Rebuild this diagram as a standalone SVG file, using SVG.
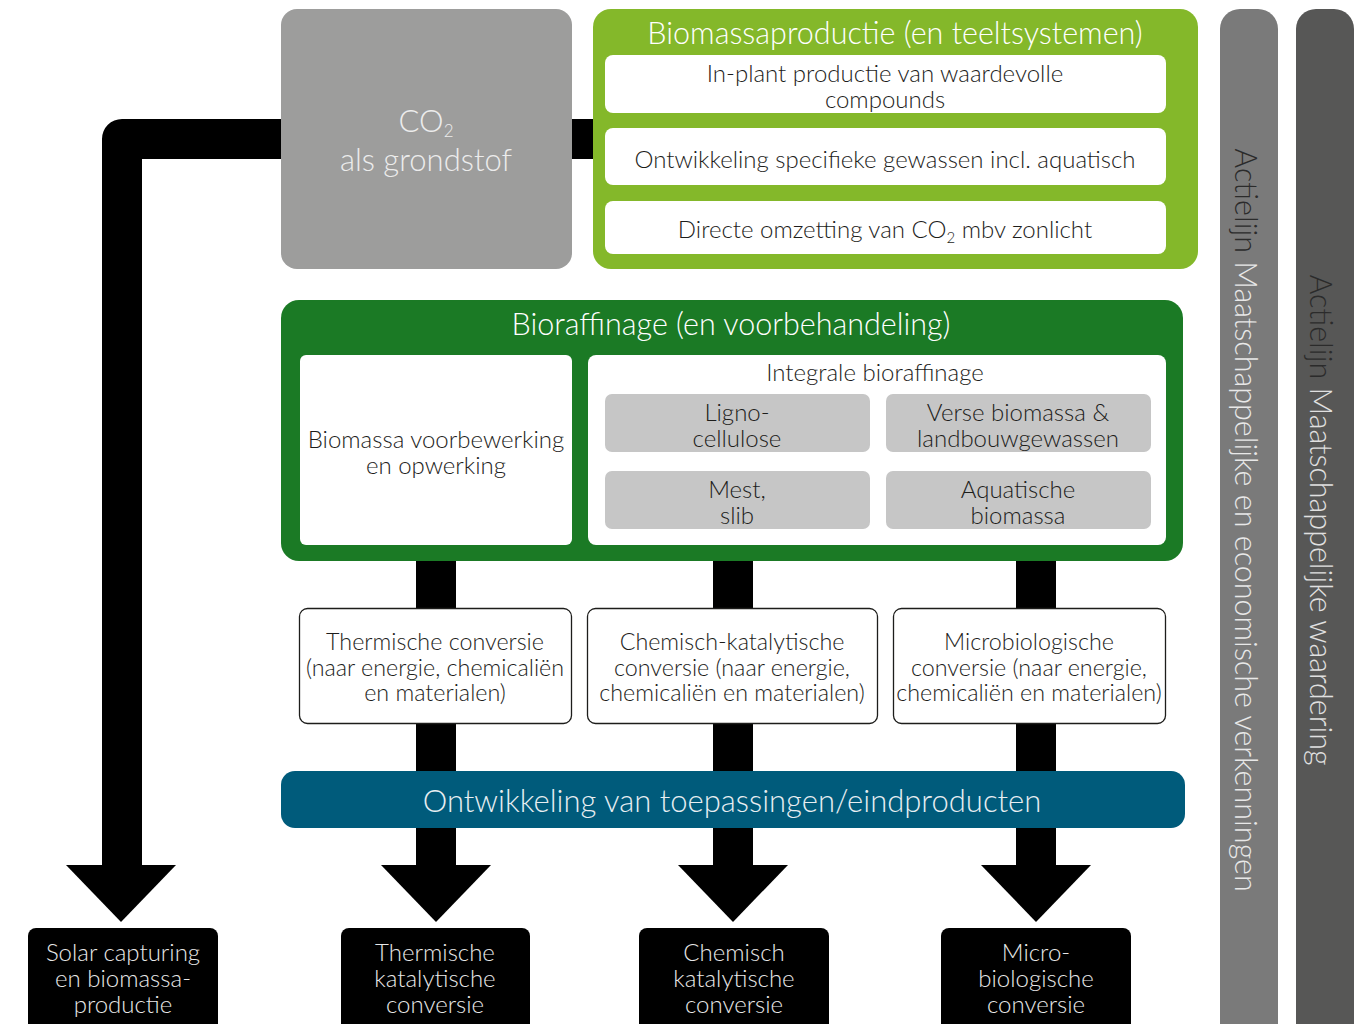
<svg xmlns="http://www.w3.org/2000/svg" width="1366" height="1024" viewBox="0 0 1366 1024">
<style>
text{font-family:Lato,"Open Sans","Liberation Sans",sans-serif;font-weight:300;text-anchor:middle;dominant-baseline:central}
.dk{fill:#1d1d1b;font-size:24px}
.cv{font-size:23.3px}
.ttl{fill:#ffffff;font-size:30.5px}
.wbox{fill:#ffffff}
.gbox{fill:#c6c6c6}
.cbox{fill:#ffffff;stroke:#1d1d1b;stroke-width:1.3}
.bbox{fill:#000000}
.btx{fill:#e8e8e8;font-size:24px}
.vt{font-size:30.5px}
</style>
<rect width="1366" height="1024" fill="#ffffff"/>

<g id="connectors" fill="#000" stroke="none">
  <path d="M 600 139 L 122 139 L 122 868" fill="none" stroke="#000" stroke-width="40" stroke-linejoin="round"/>
  <polygon points="66,865 176,865 121,922"/>
  <rect x="416" y="555" width="40" height="312"/>
  <polygon points="381,865 491,865 436,922"/>
  <rect x="713" y="555" width="40" height="312"/>
  <polygon points="678,865 788,865 733,922"/>
  <rect x="1016" y="555" width="40" height="312"/>
  <polygon points="981,865 1091,865 1036,922"/>
</g>

<g id="bar-verkenningen">
  <rect x="1220" y="9" width="58" height="1040" rx="20" fill="#7a7a7a"/>
  <text class="vt" transform="translate(1247,520) rotate(90)"><tspan fill="#2b2b2b">Actielijn</tspan><tspan fill="#e8e8e8"> Maatschappelijke en economische verkenningen</tspan></text>
</g>
<g id="bar-waardering">
  <rect x="1296" y="9" width="58" height="1040" rx="20" fill="#575756"/>
  <text class="vt" transform="translate(1322,520) rotate(90)"><tspan fill="#2b2b2b">Actielijn</tspan><tspan fill="#e0e0e0"> Maatschappelijke waardering</tspan></text>
</g>

<g id="co2">
  <rect x="281" y="9" width="291" height="260" rx="16" fill="#9d9d9c"/>
  <text x="426" y="120" fill="#ececec" font-size="31">CO<tspan font-size="17" dy="10">2</tspan></text>
  <text x="426" y="159" fill="#ececec" font-size="31">als grondstof</text>
</g>

<g id="biomassaproductie">
  <rect x="593" y="9" width="605" height="260" rx="18" fill="#84b82a"/>
  <text class="ttl" x="895" y="32">Biomassaproductie (en teeltsystemen)</text>
  <g id="inplant">
    <rect class="wbox" x="605" y="55" width="561" height="58" rx="8"/>
    <text class="dk" x="885" y="72">In-plant productie van waardevolle</text>
    <text class="dk" x="885" y="98">compounds</text>
  </g>
  <g id="gewassen">
    <rect class="wbox" x="605" y="128" width="561" height="57" rx="8"/>
    <text class="dk" x="885" y="158">Ontwikkeling specifieke gewassen incl. aquatisch</text>
  </g>
  <g id="omzetting">
    <rect class="wbox" x="605" y="201" width="561" height="53" rx="8"/>
    <text class="dk" x="885" y="228">Directe omzetting van CO<tspan font-size="15" dy="9">2</tspan><tspan dy="-9"> mbv zonlicht</tspan></text>
  </g>
</g>

<g id="bioraffinage">
  <rect x="281" y="300" width="902" height="261" rx="18" fill="#1b7a25"/>
  <text class="ttl" x="731" y="323">Bioraffinage (en voorbehandeling)</text>
  <g id="voorbewerking">
    <rect class="wbox" x="300" y="355" width="272" height="190" rx="6"/>
    <text class="dk" x="436" y="438">Biomassa voorbewerking</text>
    <text class="dk" x="436" y="464">en opwerking</text>
  </g>
  <g id="integrale">
    <rect class="wbox" x="588" y="355" width="578" height="190" rx="8"/>
    <text class="dk" x="875" y="371">Integrale bioraffinage</text>
    <g id="ligno">
      <rect class="gbox" x="605" y="394" width="265" height="58" rx="7"/>
      <text class="dk" x="737" y="411">Ligno-</text>
      <text class="dk" x="737" y="437">cellulose</text>
    </g>
    <g id="verse">
      <rect class="gbox" x="886" y="394" width="265" height="58" rx="7"/>
      <text class="dk" x="1018" y="411">Verse biomassa &amp;</text>
      <text class="dk" x="1018" y="437">landbouwgewassen</text>
    </g>
    <g id="mest">
      <rect class="gbox" x="605" y="471" width="265" height="58" rx="7"/>
      <text class="dk" x="737" y="488">Mest,</text>
      <text class="dk" x="737" y="514">slib</text>
    </g>
    <g id="aquatisch">
      <rect class="gbox" x="886" y="471" width="265" height="58" rx="7"/>
      <text class="dk" x="1018" y="488">Aquatische</text>
      <text class="dk" x="1018" y="514">biomassa</text>
    </g>
  </g>
</g>

<g id="thermische-conversie">
  <rect class="cbox" x="299.5" y="608.5" width="272" height="115" rx="8"/>
  <text class="dk cv" x="435" y="641">Thermische conversie</text>
  <text class="dk cv" x="435" y="667">(naar energie, chemicaliën</text>
  <text class="dk cv" x="435" y="692">en materialen)</text>
</g>
<g id="chemisch-conversie">
  <rect class="cbox" x="587.5" y="608.5" width="290" height="115" rx="8"/>
  <text class="dk cv" x="732" y="641">Chemisch-katalytische</text>
  <text class="dk cv" x="732" y="667">conversie (naar energie,</text>
  <text class="dk cv" x="732" y="692">chemicaliën en materialen)</text>
</g>
<g id="microbiologische-conversie">
  <rect class="cbox" x="893.5" y="608.5" width="272" height="115" rx="8"/>
  <text class="dk cv" x="1029" y="641">Microbiologische</text>
  <text class="dk cv" x="1029" y="667">conversie (naar energie,</text>
  <text class="dk cv" x="1029" y="692">chemicaliën en materialen)</text>
</g>

<g id="toepassingen">
  <rect x="281" y="771" width="904" height="57" rx="14" fill="#005b7b"/>
  <text x="732" y="800" fill="#e8eef2" font-size="31">Ontwikkeling van toepassingen/eindproducten</text>
</g>

<g id="solar">
  <rect class="bbox" x="28" y="928" width="190" height="110" rx="8"/>
  <text class="btx" x="123" y="951">Solar capturing</text>
  <text class="btx" x="123" y="977">en biomassa-</text>
  <text class="btx" x="123" y="1003">productie</text>
</g>
<g id="thermisch-kat">
  <rect class="bbox" x="341" y="928" width="189" height="110" rx="8"/>
  <text class="btx" x="435" y="951">Thermische</text>
  <text class="btx" x="435" y="977">katalytische</text>
  <text class="btx" x="435" y="1003">conversie</text>
</g>
<g id="chemisch-kat">
  <rect class="bbox" x="639" y="928" width="190" height="110" rx="8"/>
  <text class="btx" x="734" y="951">Chemisch</text>
  <text class="btx" x="734" y="977">katalytische</text>
  <text class="btx" x="734" y="1003">conversie</text>
</g>
<g id="micro">
  <rect class="bbox" x="941" y="928" width="190" height="110" rx="8"/>
  <text class="btx" x="1036" y="951">Micro-</text>
  <text class="btx" x="1036" y="977">biologische</text>
  <text class="btx" x="1036" y="1003">conversie</text>
</g>
</svg>
